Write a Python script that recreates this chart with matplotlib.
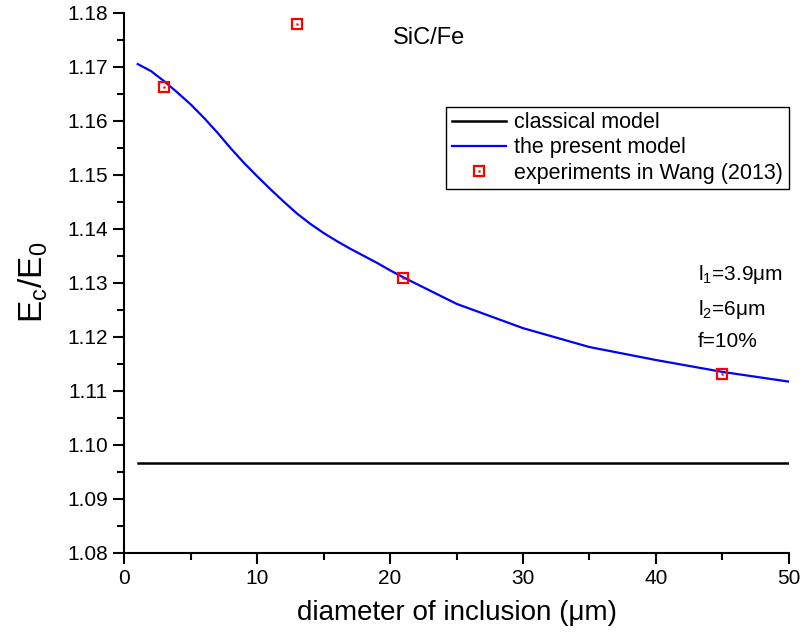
import matplotlib
matplotlib.use('Agg')
import matplotlib.pyplot as plt
from matplotlib.ticker import MultipleLocator
from matplotlib.legend_handler import HandlerTuple

plt.rcParams['font.family'] = ['Liberation Sans', 'DejaVu Sans']
plt.rcParams['mathtext.fontset'] = 'custom'
plt.rcParams['mathtext.rm'] = 'Liberation Sans'
plt.rcParams['mathtext.it'] = 'Liberation Sans'
plt.rcParams['mathtext.default'] = 'regular'

# the present model
d_model = [1, 2, 3, 4, 5, 6, 7, 8, 9, 10, 11, 12, 13, 14, 15, 16, 17, 18, 19, 20, 21,
           25, 30, 35, 40, 45, 50]
ratio_model = [1.1705, 1.1692, 1.1673, 1.1652, 1.1630, 1.1605, 1.1578, 1.1549, 1.1522, 1.1497,
               1.1473, 1.1450, 1.1428, 1.1409, 1.1392, 1.1377, 1.1363, 1.1350, 1.1337, 1.1323,
               1.1310, 1.1261, 1.1216, 1.1181, 1.1157, 1.1135, 1.1117]
# classical model
d_classical = [1, 50]
ratio_classical = [1.0966, 1.0966]
# experiments in Wang (2013)
d_exp = [3, 13, 21, 45]
ratio_exp = [1.1662, 1.1779, 1.1309, 1.1131]

fig = plt.figure(figsize=(8.03, 6.39), dpi=100)
ax = fig.add_axes([0.155, 0.135, 0.827, 0.845])

l1, = ax.plot(d_classical, ratio_classical, color='black', lw=1.8, label='classical model')
l2, = ax.plot(d_model, ratio_model, color='#0000ff', lw=1.6, label='the present model')
m1, = ax.plot(d_exp, ratio_exp, ls='none', marker='s', ms=7.5, mfc='none', mec='red', mew=1.6)
m2, = ax.plot(d_exp, ratio_exp, ls='none', marker='s', ms=1.2, mfc='red', mec='red', mew=0.3)

ax.set_xlim(0, 50)
ax.set_ylim(1.08, 1.18)
ax.xaxis.set_major_locator(MultipleLocator(10))
ax.xaxis.set_minor_locator(MultipleLocator(5))
ax.yaxis.set_major_locator(MultipleLocator(0.01))
ax.yaxis.set_minor_locator(MultipleLocator(0.005))
ax.yaxis.set_major_formatter(plt.FormatStrFormatter('%.2f'))
ax.tick_params(which='major', direction='out', length=8, width=1.5, labelsize=15, pad=4)
ax.tick_params(which='minor', direction='out', length=5, width=1.5)
for s in ['top', 'right']:
    ax.spines[s].set_visible(False)
for s in ['left', 'bottom']:
    ax.spines[s].set_linewidth(1.5)

ax.set_xlabel('diameter of inclusion (\u03bcm)', fontsize=20, labelpad=8)
ax.set_ylabel('E$_c$/E$_0$', fontsize=24, labelpad=12)

ax.text(20.2, 1.1753, 'SiC/Fe', fontsize=17, va='center')
ax.text(43.2, 1.1316, 'l$_1$=3.9\u03bcm', fontsize=15, va='center')
ax.text(43.2, 1.1251, 'l$_2$=6\u03bcm', fontsize=15, va='center')
ax.text(43.2, 1.1192, 'f=10%', fontsize=15, va='center')

leg = ax.legend([l1, l2, (m1, m2)], ['classical model', 'the present model', 'experiments in Wang (2013)'],
                handler_map={tuple: HandlerTuple(ndivide=1)},
                loc='upper right', bbox_to_anchor=(1.0, 0.826), borderaxespad=0,
                fontsize=15.5, fancybox=False, framealpha=1, edgecolor='black',
                handlelength=2.5, handletextpad=0.4, labelspacing=0.2, borderpad=0.25)
leg.get_frame().set_linewidth(1.0)

fig.savefig('out.png', dpi=100)
